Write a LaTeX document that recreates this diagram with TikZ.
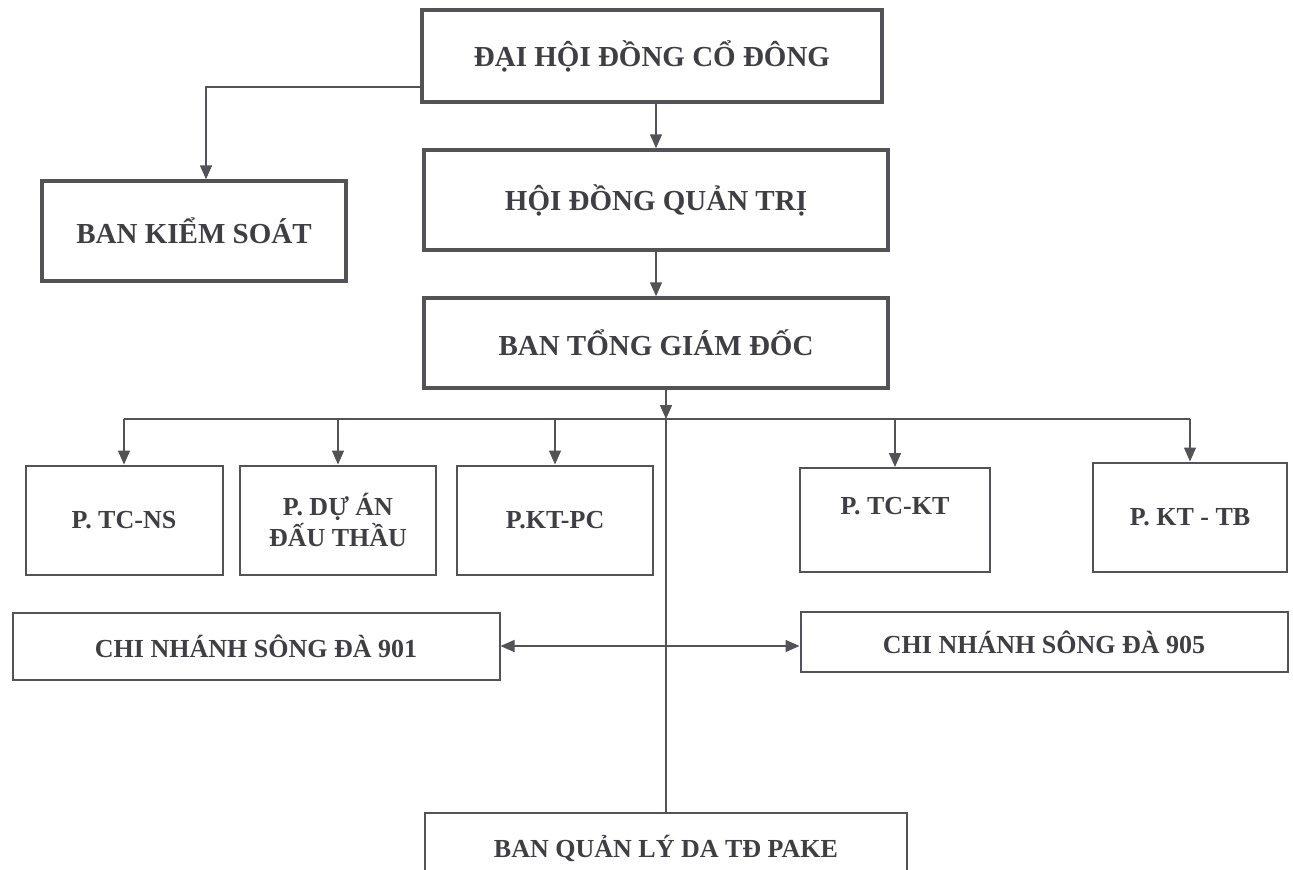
\documentclass[tikz,border=0pt]{standalone}
\usepackage{fontspec}
\setmainfont{Liberation Serif}
\usepackage{tikz}
\usetikzlibrary{arrows.meta,positioning}
\usepackage{xcolor}
\definecolor{orgline}{RGB}{82,82,88}
\definecolor{orgtext}{RGB}{62,62,68}
\tikzstyle{mainbox} = [rectangle, draw=orgline, line width=3.5pt, text=orgtext, font=\fontsize{29}{34}\selectfont\bfseries, align=center, inner sep=0pt]
\tikzstyle{deptbox} = [rectangle, draw=orgline, line width=2pt, text=orgtext, font=\fontsize{26}{31}\selectfont\bfseries, align=center, inner sep=0pt]
\tikzstyle{arrow} = [line width=1.5pt,-{Triangle[length=14pt,width=12pt]},color=orgline]
\tikzstyle{dblarrow} = [line width=1.5pt,{Triangle[length=14pt,width=12pt]}-{Triangle[length=14pt,width=12pt]},color=orgline]
\tikzstyle{link} = [line width=1.5pt,color=orgline]

\begin{document}
\begin{tikzpicture}[x=1pt, y=-1pt]
\useasboundingbox (0,0) rectangle (1293,870);

% Top levels
\node[mainbox, minimum width=460, minimum height=92] (dhcd) at (652,56) {ĐẠI HỘI ĐỒNG CỔ ĐÔNG};
\node[mainbox, minimum width=304, minimum height=100] (bks) at (194,231) {BAN KIỂM SOÁT};
\node[mainbox, minimum width=464, minimum height=100] (hdqt) at (656,200) {HỘI ĐỒNG QUẢN TRỊ};
\node[mainbox, minimum width=464, minimum height=90] (btgd) at (656,343) {BAN TỔNG GIÁM ĐỐC};

% Departments
\node[deptbox, minimum width=197, minimum height=109] (tcns) at (124,520) {P. TC-NS};
\node[deptbox, minimum width=196, minimum height=109] (duan) at (338,520) {P. DỰ ÁN\\ĐẤU THẦU};
\node[deptbox, minimum width=196, minimum height=109] (ktpc) at (555,520) {P.KT-PC};
\node[deptbox, minimum width=190, minimum height=104] (tckt) at (895,520) {P. TC-KT\\[-2pt]~};
\node[deptbox, minimum width=194, minimum height=109] (kttb) at (1190,517) {P. KT - TB};

% Branches
\node[deptbox, minimum width=487, minimum height=67] (cn901) at (256,646) {CHI NHÁNH SÔNG ĐÀ 901};
\node[deptbox, minimum width=487, minimum height=60] (cn905) at (1044,642) {CHI NHÁNH SÔNG ĐÀ 905};
\node[deptbox, minimum width=482, minimum height=100, anchor=north] (bqlda) at (666,812) {BAN QUẢN LÝ DA TĐ PAKE\\[3pt]~};

% Bus point
\coordinate (bus) at (666,419);

% Arrows
\draw[arrow] ([yshift=17pt]dhcd.south west) -| ([xshift=12pt]bks.north);
\draw[arrow] (hdqt.north |- dhcd.south) -- (hdqt.north);
\draw[arrow] (hdqt.south) -- (btgd.north);
\draw[arrow] (btgd.south -| bus) -- (bus);
\draw[link] (bus) -- (bqlda.north);
\draw[link] (tcns.north |- bus) -- (kttb.north |- bus);
\foreach \d in {tcns,duan,ktpc,tckt,kttb}
  \draw[arrow] (\d.north |- bus) -- (\d.north);
\draw[dblarrow] (cn901.east) -- (cn901.east -| cn905.west);
\end{tikzpicture}
\end{document}
